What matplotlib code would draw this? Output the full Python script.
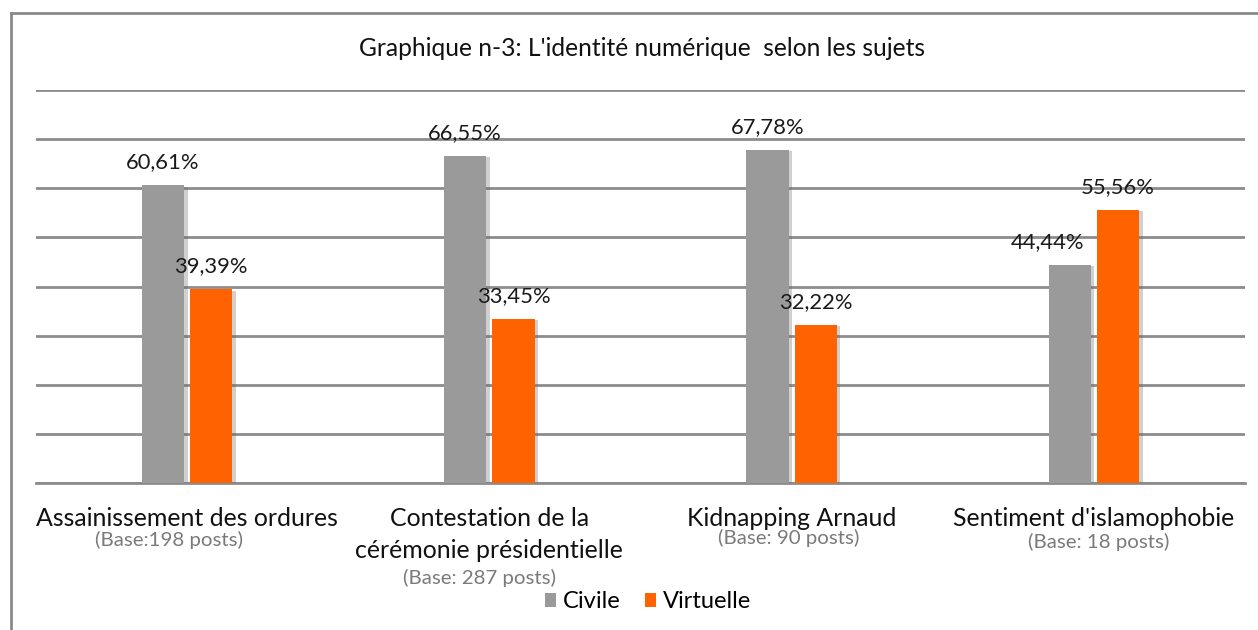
import matplotlib
matplotlib.use("Agg")
import matplotlib.pyplot as plt
import matplotlib.patheffects as pe
from matplotlib.lines import Line2D
from matplotlib.patches import Patch
import numpy as np

plt.rcParams['font.family'] = ['Lato', 'DejaVu Sans']

categories = ["Assainissement des ordures", "Contestation de la\ncérémonie présidentielle",
              "Kidnapping Arnaud", "Sentiment d'islamophobie"]
bases = ["(Base:198 posts)", "(Base: 287 posts)", "(Base: 90 posts)", "(Base: 18 posts)"]
civile = [60.61, 66.55, 67.78, 44.44]
virtuelle = [39.39, 33.45, 32.22, 55.56]
series_names = ["Civile", "Virtuelle"]
title = "Graphique n-3: L'identité numérique  selon les sujets"

GRAY = "#9a9a9a"
ORANGE = "#ff6200"
W, H = 1258, 630

fig = plt.figure(figsize=(W/100, H/100), dpi=100)
ax = fig.add_axes([36/W, (H-483)/H, (1245-36)/W, (483-90)/H])

x = np.arange(len(categories))
w = 0.14
off = 0.08
shadow = [pe.SimplePatchShadow(offset=(2.5, -1), shadow_rgbFace="#666666", alpha=0.3), pe.Normal()]
b1 = ax.bar(x - off, civile, w, color=GRAY, label=series_names[0], zorder=3, path_effects=shadow)
b2 = ax.bar(x + off, virtuelle, w, color=ORANGE, label=series_names[1], zorder=3, path_effects=shadow)

fmt = lambda v: f"{v:.2f}".replace(".", ",") + "%"
# small horizontal nudges (points) for value labels, layout only
nudge_c = [0, 0, 0, -16]
for i, (bar, v) in enumerate(zip(b1, civile)):
    ax.annotate(fmt(v), xy=(bar.get_x() + bar.get_width()/2, v), xytext=(nudge_c[i], 12.2),
                textcoords="offset points", ha="center", va="baseline", fontsize=15.8, color="#1a1a1a")
for i, (bar, v) in enumerate(zip(b2, virtuelle)):
    ax.annotate(fmt(v), xy=(bar.get_x() + bar.get_width()/2, v), xytext=(0, 12.2),
                textcoords="offset points", ha="center", va="baseline", fontsize=15.8, color="#1a1a1a")

ax.set_xlim(-0.5, len(categories) - 0.5)
ax.set_ylim(0, 80)
ax.set_yticks(np.arange(0, 81, 10))
ax.yaxis.grid(True, color="#8c8c8c", linewidth=2, zorder=0)
ax.set_axisbelow(True)
ax.tick_params(left=False, labelleft=False, bottom=False, labelbottom=False)
for s in ["top", "right", "left"]:
    ax.spines[s].set_visible(False)
ax.spines["bottom"].set_color("#8c8c8c")
ax.spines["bottom"].set_linewidth(2)

# category labels: line centres in pixels from the top of the figure (layout)
line_y0 = 519
line_step = 31
sub_y = [540, 578, 538, 542]
sub_dx = [-18, -10, -3, 5]
to_fig_y = lambda py: 1 - py / H
for i, (cat, base) in enumerate(zip(categories, bases)):
    cx = ax.transData.transform((x[i], 0))[0]
    for j, line in enumerate(cat.split("\n")):
        fig.text(cx / W, to_fig_y(line_y0 + j * line_step), line,
                 ha="center", va="center", fontsize=17.9, color="#111111")
    fig.text((cx + sub_dx[i]) / W, to_fig_y(sub_y[i]), base,
             ha="center", va="center", fontsize=14.7, color="#7a7a7a")

fig.text(642/W, to_fig_y(48), title, ha="center", va="center", fontsize=17.7, color="#111111")

handles = [Patch(facecolor=GRAY), Patch(facecolor=ORANGE)]
leg = fig.legend(handles=handles, labels=series_names, loc="center", bbox_to_anchor=(648/W, to_fig_y(602)),
                 ncol=2, frameon=False, fontsize=17, handlelength=0.48, handleheight=0.5,
                 handletextpad=0.3, columnspacing=1.0)

fig.add_artist(Line2D([11/W, 11/W], [0, to_fig_y(13)], color="#8a8a8a", linewidth=2,
                      transform=fig.transFigure))
fig.add_artist(Line2D([11/W, 1], [to_fig_y(13), to_fig_y(13)], color="#8a8a8a", linewidth=2,
                      transform=fig.transFigure))

fig.savefig("out.png", dpi=100)
